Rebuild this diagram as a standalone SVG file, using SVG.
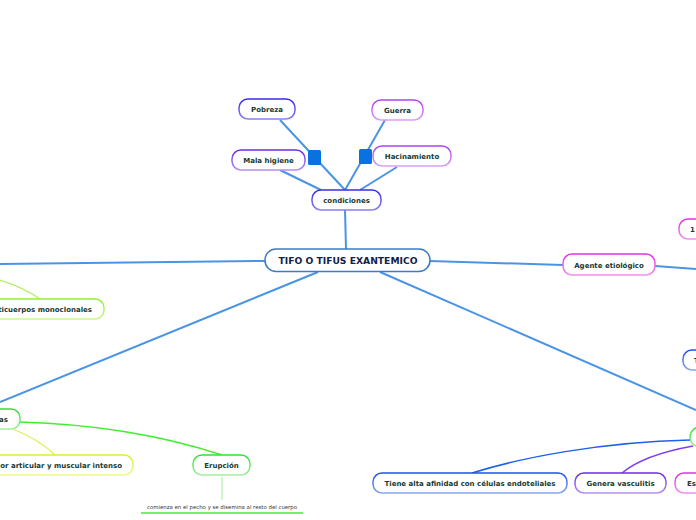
<svg xmlns="http://www.w3.org/2000/svg" width="696" height="520" viewBox="0 0 696 520">
<defs>
<linearGradient id="gBlue" x1="0" y1="0" x2="0" y2="1"><stop offset="0" stop-color="#1f4fe8"/><stop offset="1" stop-color="#86a6f4"/></linearGradient>
<linearGradient id="gIndigo" x1="0" y1="0" x2="0" y2="1"><stop offset="0" stop-color="#3a2ae8"/><stop offset="1" stop-color="#8a80f4"/></linearGradient>
<linearGradient id="gPurple" x1="0" y1="0" x2="0" y2="1"><stop offset="0" stop-color="#6a2ae8"/><stop offset="1" stop-color="#b490f4"/></linearGradient>
<linearGradient id="gViolet" x1="0" y1="0" x2="0" y2="1"><stop offset="0" stop-color="#b040f0"/><stop offset="1" stop-color="#d8a0f8"/></linearGradient>
<linearGradient id="gMagenta" x1="0" y1="0" x2="0" y2="1"><stop offset="0" stop-color="#e030e0"/><stop offset="1" stop-color="#f090f0"/></linearGradient>
<linearGradient id="gGreen" x1="0" y1="0" x2="0" y2="1"><stop offset="0" stop-color="#30e030"/><stop offset="1" stop-color="#a0f0a0"/></linearGradient>
<linearGradient id="gLime" x1="0" y1="0" x2="0" y2="1"><stop offset="0" stop-color="#90f030"/><stop offset="1" stop-color="#c8f890"/></linearGradient>
<linearGradient id="gYellow" x1="0" y1="0" x2="0" y2="1"><stop offset="0" stop-color="#d8f030"/><stop offset="1" stop-color="#eef890"/></linearGradient>
</defs>
<style>
.n{fill:#ffffff;stroke-width:1.5}
.t{font-family:"DejaVu Sans",Verdana,sans-serif;font-weight:bold;font-size:7px;fill:#173a32;text-anchor:middle}
.main{font-size:9.2px;fill:#12224a}
.c{fill:none;stroke:#4a94e6;stroke-width:2}
.note{font-family:"DejaVu Sans",Verdana,sans-serif;font-size:5.4px;fill:#333333;text-anchor:middle}
.sq{fill:#0a72e0}
</style>
<g id="connectors">
<line class="c" x1="280" y1="120" x2="345" y2="190"/>
<line class="c" x1="385" y1="120" x2="345" y2="190"/>
<line class="c" x1="280" y1="170" x2="321" y2="190" stroke="#4f88cc"/>
<line class="c" x1="397" y1="167" x2="360" y2="190"/>
<line class="c" x1="345" y1="210" x2="346" y2="249" stroke="#4f88cc"/>
<line class="c" x1="265" y1="261" x2="0" y2="264"/>
<line class="c" x1="430" y1="261" x2="563" y2="265"/>
<line class="c" x1="655" y1="266" x2="696" y2="269"/>
<line class="c" x1="318" y1="272" x2="0" y2="402"/>
<line class="c" x1="380" y1="272" x2="696" y2="410"/>
<path d="M0,280 Q25,288 40,299" fill="none" stroke="#b0f060" stroke-width="1.2"/>
<path d="M20,422 Q130,425 222,455" fill="none" stroke="#40f030" stroke-width="1.5"/>
<path d="M13,429 Q40,440 55,455" fill="none" stroke="#e0f050" stroke-width="1.2"/>
<line x1="222" y1="477" x2="222" y2="500" stroke="#b0f0b0" stroke-width="1.2"/>
<line x1="141" y1="513" x2="303" y2="513" stroke="#40f030" stroke-width="1.5"/>
<path d="M690,440 C600,442 520,458 472,473" fill="none" stroke="#2060e8" stroke-width="1.5"/>
<path d="M693,446 C660,452 635,462 622,473" fill="none" stroke="#8040f0" stroke-width="1.5"/>
<rect class="sq" x="308" y="150" width="13" height="15" rx="1.5"/>
<rect class="sq" x="359" y="149" width="13" height="15" rx="1.5"/>
</g>
<g id="central">
<rect class="n" x="265" y="249" width="165" height="22.5" rx="11" stroke="#3a7cc8"/>
<text class="t main" x="348" y="263.5">TIFO O TIFUS EXANTEMICO</text>
</g>
<g id="condiciones">
<rect class="n" x="312" y="190" width="69" height="20" rx="9" stroke="url(#gIndigo)"/>
<text class="t" x="346.5" y="203">condiciones</text>
</g>
<g id="pobreza">
<rect class="n" x="239" y="99" width="56" height="20" rx="9" stroke="url(#gIndigo)"/>
<text class="t" x="267" y="112">Pobreza</text>
</g>
<g id="mala-higiene">
<rect class="n" x="232" y="150" width="73" height="20" rx="9" stroke="url(#gPurple)"/>
<text class="t" x="268.5" y="163">Mala higiene</text>
</g>
<g id="guerra">
<rect class="n" x="372" y="100" width="51" height="20" rx="9" stroke="url(#gViolet)"/>
<text class="t" x="397.5" y="113">Guerra</text>
</g>
<g id="hacinamiento">
<rect class="n" x="373" y="146" width="78" height="20" rx="9" stroke="url(#gViolet)"/>
<text class="t" x="412" y="159">Hacinamiento</text>
</g>
<g id="agente">
<rect class="n" x="563" y="254" width="92" height="21" rx="9" stroke="url(#gMagenta)"/>
<text class="t" x="609" y="267.5">Agente etiológico</text>
</g>
<g id="node-1">
<rect class="n" x="679" y="219" width="40" height="20" rx="9" stroke="url(#gMagenta)"/>
<text class="t" x="690" y="232" style="text-anchor:start">1</text>
</g>
<g id="node-t">
<rect class="n" x="683" y="350" width="40" height="20" rx="9" stroke="url(#gBlue)"/>
<text class="t" x="694" y="363" style="text-anchor:start">T</text>
</g>
<g id="node-green">
<rect class="n" x="690" y="427" width="40" height="20" rx="10" stroke="url(#gGreen)"/>
</g>
<g id="tiene">
<rect class="n" x="373" y="473" width="194" height="20" rx="9" stroke="url(#gBlue)"/>
<text class="t" x="470" y="486">Tiene alta afinidad con células endoteliales</text>
</g>
<g id="vasculitis">
<rect class="n" x="575" y="473" width="91" height="20" rx="9" stroke="url(#gPurple)"/>
<text class="t" x="620.5" y="486">Genera vasculitis</text>
</g>
<g id="es">
<rect class="n" x="675" y="473" width="60" height="20" rx="9" stroke="url(#gMagenta)"/>
<text class="t" x="687" y="486" style="text-anchor:start">Es</text>
</g>
<g id="anticuerpos">
<rect class="n" x="-60" y="299" width="164" height="20" rx="9" stroke="url(#gLime)"/>
<text class="t" x="92" y="312" style="text-anchor:end">Anticuerpos monoclonales</text>
</g>
<g id="as">
<rect class="n" x="-60" y="409" width="80" height="20" rx="9" stroke="url(#gGreen)"/>
<text class="t" x="8" y="422" style="text-anchor:end">as</text>
</g>
<g id="dolor">
<rect class="n" x="-40" y="455" width="173" height="20" rx="9" stroke="url(#gYellow)"/>
<text class="t" x="122" y="468" style="text-anchor:end">Dolor articular y muscular intenso</text>
</g>
<g id="erupcion">
<rect class="n" x="193" y="455" width="57" height="20" rx="9" stroke="url(#gGreen)"/>
<text class="t" x="221.5" y="468">Erupción</text>
</g>
<g id="comentario">
<text class="note" x="222" y="509">comienza en el pecho y se disemina al resto del cuerpo</text>
</g>
</svg>
